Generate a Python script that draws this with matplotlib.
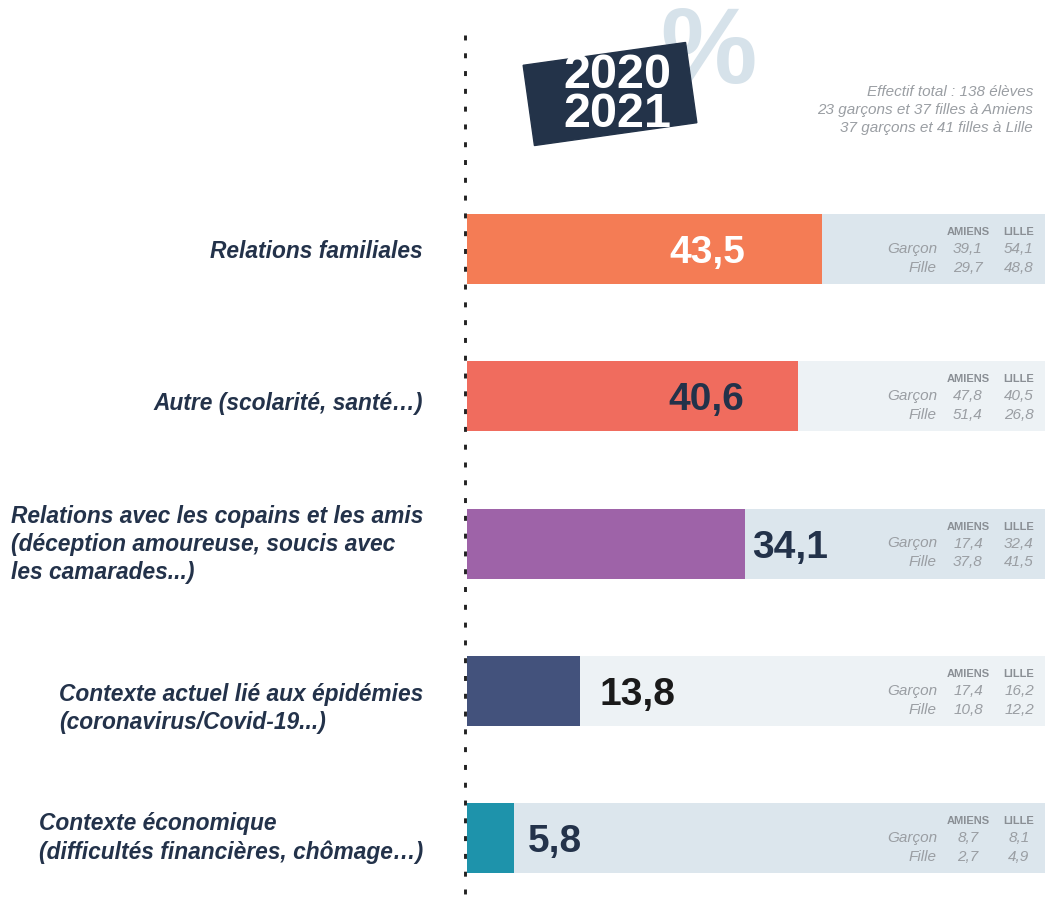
import matplotlib.pyplot as plt
from matplotlib.patches import Rectangle
from matplotlib.transforms import Affine2D

plt.rcParams['font.family'] = ['Liberation Sans', 'DejaVu Sans']

# data
categories = [
    "Relations familiales",
    "Autre (scolarité, santé…)",
    "Relations avec les copains et les amis\n(déception amoureuse, soucis avec\nles camarades...)",
    "Contexte actuel lié aux épidémies\n(coronavirus/Covid-19...)",
    "Contexte économique\n(difficultés financières, chômage…)",
]
values = [43.5, 40.6, 34.1, 13.8, 5.8]
amiens_garcon = [39.1, 47.8, 17.4, 17.4, 8.7]
lille_garcon = [54.1, 40.5, 32.4, 16.2, 8.1]
amiens_fille = [29.7, 51.4, 37.8, 10.8, 2.7]
lille_fille = [48.8, 26.8, 41.5, 12.2, 4.9]
note = "Effectif total : 138 élèves\n23 garçons et 37 filles à Amiens\n37 garçons et 41 filles à Lille"

# styles
bar_colors = ['#f47c55', '#f06c5e', '#9e63a8', '#43527c', '#1e93ab']
bg_colors = ['#dce6ed', '#edf2f5', '#dce6ed', '#edf2f5', '#dce6ed']
val_colors = ['white', '#23324a', '#23324a', '#1a1a1a', '#23324a']
val_ha = ['right', 'right', 'left', 'left', 'left']
val_dx = [-77, -54, 7, 20, 14]      # px from bar end
lab_dy = [3, 7, 1, 18, 0]           # px
navy = '#23324a'
grey = '#9a9ea3'

W, H = 1045, 900
fig = plt.figure(figsize=(W / 100, H / 100), dpi=100)

deco = fig.add_axes([0, 0, 1, 1])
deco.set_xlim(0, W)
deco.set_ylim(H, 0)
deco.axis('off')

# dotted axis line
deco.plot([465, 465], [35, H], color='#222222', lw=2.1,
          linestyle=(0, (1.7, 4.4)))

# big % and year badge
deco.text(708, 55, "%", fontsize=78, fontweight='bold', color='#d6e2ea',
          ha='center', va='center', zorder=1)
badge = Rectangle((610 - 82, 94 - 40.5), 164, 81, color='#233349',
                  transform=Affine2D().rotate_deg_around(610, 94, -8) + deco.transData,
                  zorder=2)
deco.add_patch(badge)
deco.text(617, 95, "2020\n2021", fontsize=35, fontweight='bold', color='white',
          ha='center', va='center', linespacing=0.84, zorder=3)

deco.text(1033, 110, note, fontsize=11, style='italic', color=grey,
          ha='right', va='center', linespacing=1.4)

unit = 8.16      # px per percent
row_px = 147.25
ax = fig.add_axes([467 / W, 0, 578 / W, 1])
ax.set_xlim(0, 578 / unit)
ax.set_ylim(4 + (H - 838) / row_px, -249 / row_px)
ax.axis('off')

ypos = list(range(len(values)))
bh = 70 / row_px
ax.barh(ypos, [578 / unit] * len(values), height=bh, color=bg_colors, left=0)
ax.barh(ypos, values, height=bh, color=bar_colors)

x_lab, x_am, x_li = (937 - 467) / unit, (968 - 467) / unit, (1019 - 467) / unit
for i, v in enumerate(values):
    ax.text(v + val_dx[i] / unit, i + 14 / row_px, f"{v:.1f}".replace('.', ','),
            fontsize=28, fontweight='bold', color=val_colors[i],
            ha=val_ha[i], va='baseline')
    ax.text(-44 / unit, i + lab_dy[i] / row_px, categories[i], fontsize=16.4,
            fontweight='bold', style='italic', color=navy, ha='right',
            va='center', multialignment='left', linespacing=1.25)
    # small table
    yh = i - 17 / row_px
    ax.text(x_am, yh, "AMIENS", fontsize=8, fontweight='bold', color='#8a8f95',
            ha='center', va='center')
    ax.text(x_li, yh, "LILLE", fontsize=8, fontweight='bold', color='#8a8f95',
            ha='center', va='center')
    for dy, name, a, l in [(0, "Garçon", amiens_garcon[i], lille_garcon[i]),
                           (19, "Fille", amiens_fille[i], lille_fille[i])]:
        yy = i + dy / row_px
        ax.text(x_lab, yy, name, fontsize=11, style='italic', color=grey,
                ha='right', va='center')
        ax.text(x_am, yy, f"{a:.1f}".replace('.', ','), fontsize=11,
                style='italic', color=grey, ha='center', va='center')
        ax.text(x_li, yy, f"{l:.1f}".replace('.', ','), fontsize=11,
                style='italic', color=grey, ha='center', va='center')

fig.savefig("out.png", dpi=100)
